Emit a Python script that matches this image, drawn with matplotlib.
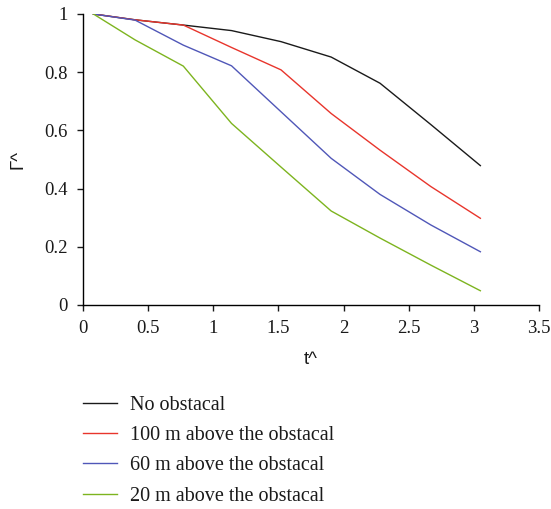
import matplotlib.pyplot as plt

plt.rcParams['font.family'] = ['Liberation Serif', 'DejaVu Serif']

# Time steps and normalised values for each case
t = [0.08, 0.40, 0.77, 1.14, 1.52, 1.905, 2.28, 2.67, 3.05]
no_obst = [1.0, 0.980, 0.962, 0.943, 0.905, 0.852, 0.762, 0.620, 0.479]
above_100 = [1.0, 0.980, 0.962, 0.885, 0.808, 0.658, 0.532, 0.407, 0.298]
above_60 = [1.0, 0.979, 0.893, 0.822, 0.664, 0.504, 0.380, 0.275, 0.183]
above_20 = [1.0, 0.911, 0.821, 0.624, 0.474, 0.323, 0.230, 0.137, 0.049]

labels = ["No obstacal", "100 m above the obstacal",
          "60 m above the obstacal", "20 m above the obstacal"]
colors = ["#1a1a1a", "#e8352c", "#5057b8", "#7db41f"]

fig = plt.figure(figsize=(5.51, 5.09), dpi=100)
ax = fig.add_axes([0.1506, 0.4008, 0.8276, 0.5717])

for y, lab, c in zip([no_obst, above_100, above_60, above_20], labels, colors):
    ax.plot(t, y, color=c, lw=1.0, label=lab)

ax.set_xlim(0, 3.5)
ax.set_ylim(0, 1)
ax.set_xticks([0, 0.5, 1, 1.5, 2, 2.5, 3, 3.5])
ax.set_xticklabels(["0", "0.5", "1", "1.5", "2", "2.5", "3", "3.5"])
ax.set_yticks([0, 0.2, 0.4, 0.6, 0.8, 1])
ax.set_yticklabels(["0", "0.2", "0.4", "0.6", "0.8", "1"])
ax.spines['top'].set_visible(False)
ax.spines['right'].set_visible(False)
for s in ['left', 'bottom']:
    ax.spines[s].set_linewidth(1.0)
ax.tick_params(direction='out', length=4.5, width=1.0, labelsize=13.5, pad=6.5,
               color='#1a1a1a', labelcolor='#1a1a1a')

# axis titles are set in a sans face
fig.text(17.5 / 551, 1 - 160 / 509, "Γ^", rotation=90, fontsize=13.5,
         family=['Liberation Sans', 'DejaVu Sans'],
         ha='center', va='center', color='#1a1a1a')
fig.text(311 / 551, 1 - 360 / 509, "t^", fontsize=13.5,
         family=['Liberation Sans', 'DejaVu Sans'],
         ha='center', va='center', color='#1a1a1a')

leg = ax.legend(loc='upper left', bbox_to_anchor=(83 / 551, 1 - 396 / 509),
                bbox_transform=fig.transFigure, frameon=False, fontsize=14.5,
                handlelength=1.7, handletextpad=0.65, labelspacing=0.55,
                borderpad=0, borderaxespad=0)
for txt in leg.get_texts():
    txt.set_color('#1a1a1a')

fig.savefig("out.png", dpi=100)
